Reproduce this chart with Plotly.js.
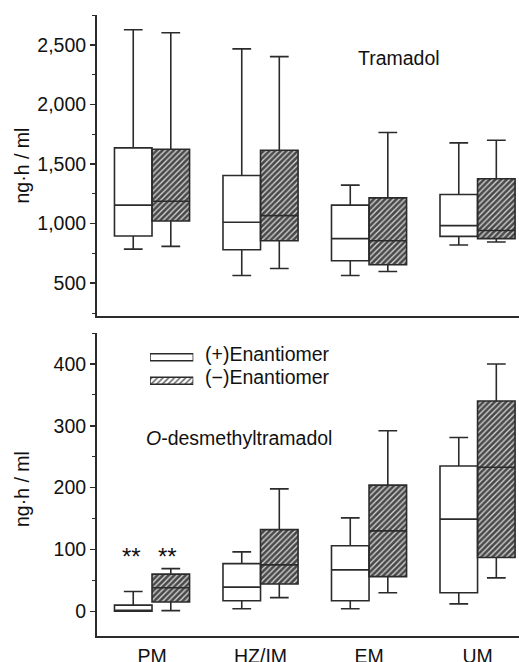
<!DOCTYPE html>
<html>
<head>
<meta charset="utf-8">
<script src="https://cdn.plot.ly/plotly-3.0.1.min.js"></script>
<style>html,body{margin:0;padding:0;background:#fff;}#chart{width:519px;height:662px;}</style>
</head>
<body>
<div id="chart"></div>
<script>
// ---- data ----
const categories = ['PM', 'HZ/IM', 'EM', 'UM'];
const legendNames = ['(+)Enantiomer', '(\u2212)Enantiomer'];

// Tramadol (ng·h/ml)
const tramPlusLower  = [786, 565, 565, 820];
const tramPlusQ1     = [896, 781, 689, 893];
const tramPlusMedian = [1155, 1011, 874, 983];
const tramPlusQ3     = [1635, 1404, 1155, 1244];
const tramPlusUpper  = [2626, 2466, 1323, 1677];

const tramMinusLower  = [809, 623, 598, 846];
const tramMinusQ1     = [1022, 856, 655, 874];
const tramMinusMedian = [1188, 1067, 856, 942];
const tramMinusQ3     = [1624, 1615, 1216, 1376];
const tramMinusUpper  = [2601, 2401, 1764, 1699];

// O-desmethyltramadol (ng·h/ml)
const odtPlusLower  = [0, 4, 4, 12];
const odtPlusQ1     = [0, 17, 17, 30];
const odtPlusMedian = [1, 39, 67, 149];
const odtPlusQ3     = [10, 77, 106, 235];
const odtPlusUpper  = [32, 96, 151, 281];

const odtMinusLower  = [1, 22, 30, 54];
const odtMinusQ1     = [15, 44, 56, 87];
const odtMinusMedian = [38, 75, 130, 233];
const odtMinusQ3     = [60, 132, 204, 340];
const odtMinusUpper  = [69, 198, 292, 400];

const sigLabel = '**';
const sigCategoryIndex = 0; // PM

// ---- styles ----
const FONT = '"Liberation Sans", Arial, Helvetica, sans-serif';
const LINE = '#2b2b2b';
const HATCH = {shape: '/', bgcolor: '#484848', fgcolor: '#d8d8d8', size: 4, solidity: 0.33};
const BOXW = 0.346;
const catIdx = categories.map((_, i) => i);

function boxTrace(xa, ya, side, lo, q1, med, q3, up, fill) {
  return {
    type: 'box', xaxis: xa, yaxis: ya,
    x: catIdx.map(i => i + side * BOXW / 2), width: BOXW,
    lowerfence: lo, q1: q1, median: med, q3: q3, upperfence: up,
    fillcolor: fill, line: {color: LINE, width: 1.6},
    whiskerwidth: 0.5, boxpoints: false, showlegend: false, hoverinfo: 'skip'
  };
}
function hatchBar(xa, ya, q1, q3) {
  return {
    type: 'bar', xaxis: xa, yaxis: ya, x: catIdx,
    base: q1, y: q3.map((v, i) => v - q1[i]),
    width: BOXW, offset: 0,
    marker: {color: '#484848', pattern: HATCH, line: {width: 0}},
    showlegend: false, hoverinfo: 'skip'
  };
}

const traces = [
  hatchBar('x', 'y', tramMinusQ1, tramMinusQ3),
  hatchBar('x2', 'y2', odtMinusQ1, odtMinusQ3),
  boxTrace('x', 'y', -1, tramPlusLower, tramPlusQ1, tramPlusMedian, tramPlusQ3, tramPlusUpper, '#ffffff'),
  boxTrace('x', 'y', 1, tramMinusLower, tramMinusQ1, tramMinusMedian, tramMinusQ3, tramMinusUpper, 'rgba(0,0,0,0)'),
  boxTrace('x2', 'y2', -1, odtPlusLower, odtPlusQ1, odtPlusMedian, odtPlusQ3, odtPlusUpper, '#ffffff'),
  boxTrace('x2', 'y2', 1, odtMinusLower, odtMinusQ1, odtMinusMedian, odtMinusQ3, odtMinusUpper, 'rgba(0,0,0,0)'),
  // legend swatches
  {
    type: 'bar', orientation: 'h', xaxis: 'x3', yaxis: 'y3',
    y: legendNames.map((_, i) => legendNames.length - 1 - i),
    x: legendNames.map(() => 1), base: 0, width: 0.3,
    marker: {
      color: ['#ffffff', '#484848'],
      pattern: {shape: ['', '/'], bgcolor: ['#ffffff', '#484848'], fgcolor: '#d8d8d8', size: 4, solidity: 0.33},
      line: {color: LINE, width: 1.5}
    },
    showlegend: false, hoverinfo: 'skip'
  }
];

const commonX = {
  type: 'linear', range: [-0.507, 3.382],
  tickmode: 'array', tickvals: catIdx, ticktext: categories,
  showline: true, linecolor: LINE, linewidth: 2,
  ticks: '', showgrid: false, zeroline: false, fixedrange: true
};
const commonY = {
  showline: true, linecolor: LINE, linewidth: 2, ticks: 'outside', ticklen: 5,
  tickwidth: 1.5, tickcolor: LINE, showgrid: false, zeroline: false,
  tickfont: {family: FONT, size: 19.5, color: '#111'}, fixedrange: true
};

const textFont = {family: FONT, size: 19.5, color: '#111'};
const starFont = {family: FONT, size: 24, color: '#111'};

const layout = {
  width: 519, height: 662,
  margin: {l: 97, r: 0, t: 15, b: 26, pad: 0},
  paper_bgcolor: '#fff', plot_bgcolor: '#fff',
  showlegend: false,
  boxmode: 'overlay',
  barmode: 'overlay',
  xaxis: Object.assign({}, commonX, {anchor: 'y', showticklabels: false}),
  yaxis: Object.assign({}, commonY, {
    domain: [0.5153, 1], anchor: 'x', range: [225, 2750],
    tick0: 0, dtick: 500, tickformat: ',',
    minor: {dtick: 250, ticks: 'outside', ticklen: 3, tickcolor: LINE, tickwidth: 1}
  }),
  xaxis2: Object.assign({}, commonX, {
    anchor: 'y2', showticklabels: true,
    tickfont: {family: FONT, size: 19.5, color: '#111'},
    ticklabelstandoff: 2
  }),
  yaxis2: Object.assign({}, commonY, {
    domain: [0, 0.4879], anchor: 'x2', range: [-40, 450],
    tick0: 0, dtick: 100,
    minor: {dtick: 50, ticks: 'outside', ticklen: 3, tickcolor: LINE, tickwidth: 1}
  }),
  xaxis3: {domain: [0.1256, 0.2282], anchor: 'y3', range: [0, 1], visible: false, fixedrange: true},
  yaxis3: {domain: [0.3923, 0.4676], anchor: 'x3', range: [-0.5, 1.5], visible: false, fixedrange: true},
  annotations: [
    {text: 'Tramadol', xref: 'paper', yref: 'paper', x: 0.7156, y: 0.9308,
     xanchor: 'center', yanchor: 'middle', showarrow: false, font: textFont},
    {text: '<i>O</i>-desmethyltramadol', xref: 'paper', yref: 'paper', x: 0.3365, y: 0.3193,
     xanchor: 'center', yanchor: 'middle', showarrow: false, font: textFont},
    {text: legendNames[0], xref: 'paper', yref: 'paper', x: 0.2512, y: 0.4545,
     xanchor: 'left', yanchor: 'middle', showarrow: false, font: textFont},
    {text: legendNames[1], xref: 'paper', yref: 'paper', x: 0.2512, y: 0.4168,
     xanchor: 'left', yanchor: 'middle', showarrow: false, font: textFont},
    {text: 'ng\u00b7h / ml', xref: 'paper', yref: 'paper', x: -0.1777, y: 0.7577, textangle: -90,
     xanchor: 'center', yanchor: 'middle', showarrow: false, font: textFont},
    {text: 'ng\u00b7h / ml', xref: 'paper', yref: 'paper', x: -0.1777, y: 0.2367, textangle: -90,
     xanchor: 'center', yanchor: 'middle', showarrow: false, font: textFont},
    {text: sigLabel, xref: 'x2', yref: 'paper', x: sigCategoryIndex - BOXW / 2, xshift: -2, y: 0.128,
     xanchor: 'center', yanchor: 'middle', showarrow: false, font: starFont},
    {text: sigLabel, xref: 'x2', yref: 'paper', x: sigCategoryIndex + BOXW / 2, xshift: -3, y: 0.128,
     xanchor: 'center', yanchor: 'middle', showarrow: false, font: starFont}
  ]
};

Plotly.newPlot('chart', traces, layout, {staticPlot: true, displayModeBar: false});
</script>
</body>
</html>
